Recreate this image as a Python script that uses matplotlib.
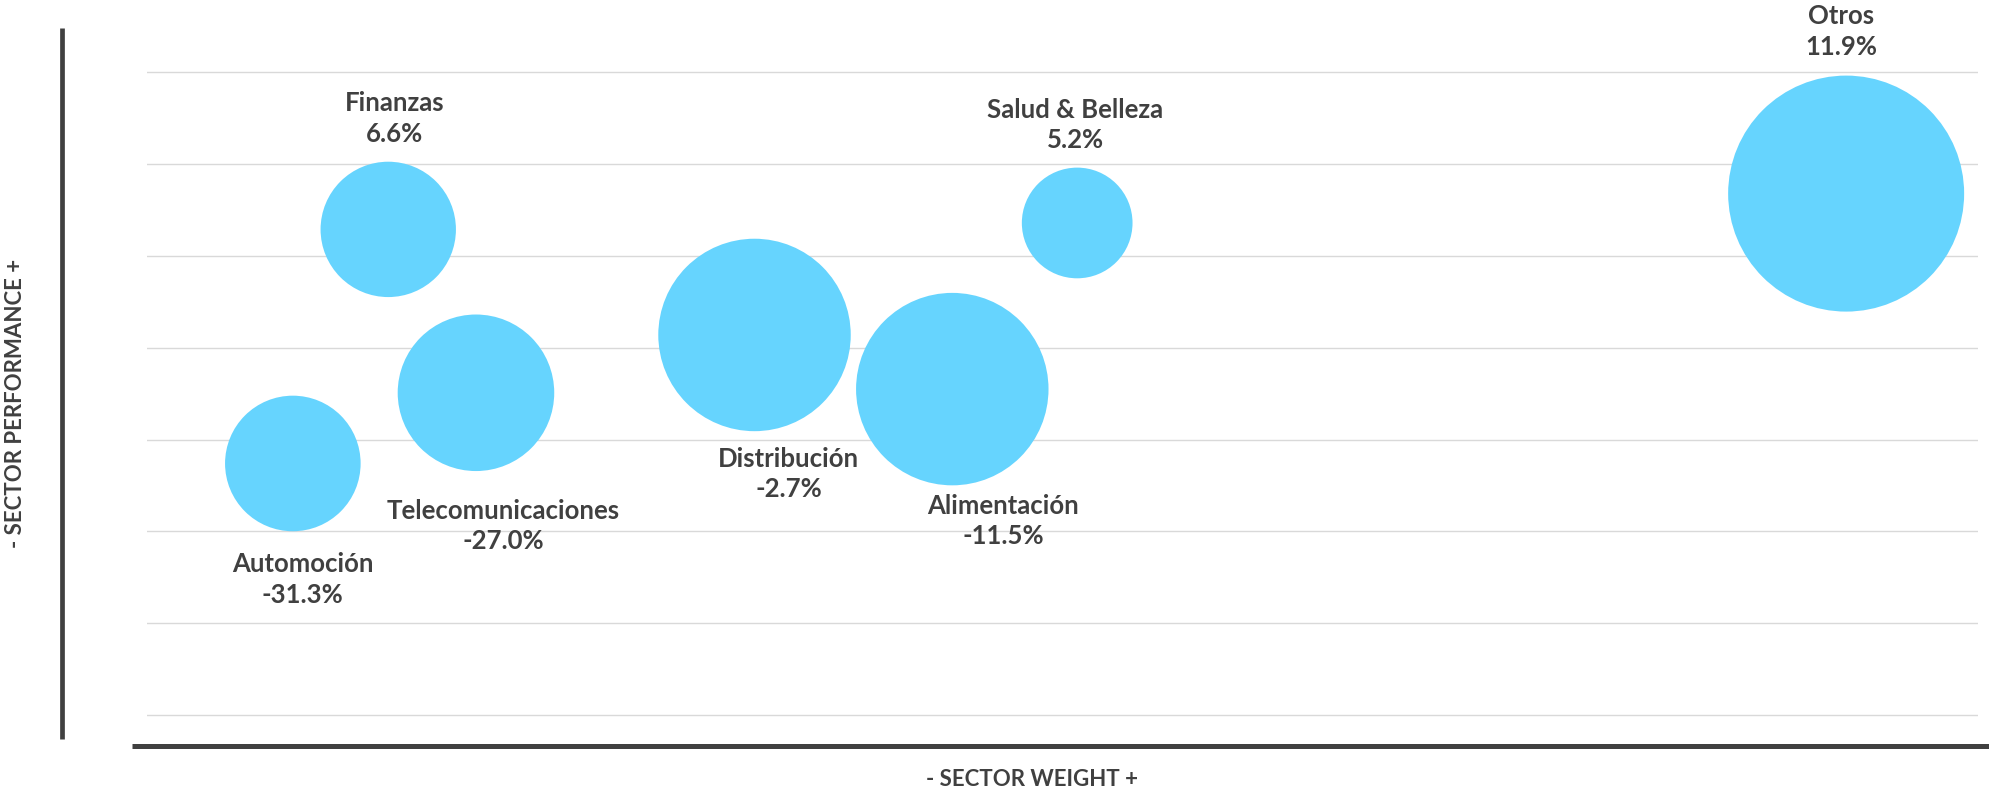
import numpy as np
import matplotlib.pyplot as plt
from matplotlib.lines import Line2D

plt.rcParams['font.family'] = ['Lato', 'DejaVu Sans']

# sector data (positions, arbitrary units)
sectors = ["Automoción", "Finanzas", "Telecomunicaciones", "Distribución",
           "Alimentación", "Salud & Belleza", "Otros"]
weight = [7.98, 13.19, 17.98, 33.19, 43.99, 50.81, 92.80]
performance = [2.74, 5.29, 3.51, 4.14, 3.55, 5.36, 5.68]
perf_labels = ["-31.3%", "6.6%", "-27.0%", "-2.7%", "-11.5%", "5.2%", "11.9%"]
bubble_size = [33.0, 32.9, 44.0, 66.5, 66.5, 22.0, 100.0]

# label offsets from bubble centre, in pixels (dx, dy; dy positive = up)
label_offsets = [(10, -116), (6, 111), (27, -133), (34, -139),
                 (51, -132), (-2, 98), (-5, 162)]

W, H, DPI = 1989, 792, 100
fig = plt.figure(figsize=(W / DPI, H / DPI), dpi=DPI)
ax = fig.add_axes([146.7 / W, 46 / H, (1978 - 146.7) / W, (H - 46) / H])

text_col = "#404040"
bubble_col = "#66D4FE"

# bubble radius in pixels -> scatter area in points^2
r_px = 118 * np.sqrt(np.array(bubble_size) / 100.0)
s = (2 * r_px * 72 / DPI) ** 2
ax.scatter(weight, performance, s=s, color=bubble_col, linewidths=0,
           zorder=3, clip_on=False)

for name, lab, x, y, (dx, dy) in zip(sectors, perf_labels, weight, performance, label_offsets):
    ax.annotate(name + "\n" + lab, xy=(x, y), xytext=(dx * 0.72, dy * 0.72),
                textcoords="offset points", ha="center", va="center",
                fontsize=18.5, fontweight="bold", color=text_col,
                linespacing=1.32, zorder=4)

ax.set_xlim(0, 100)
ax.set_ylim(-0.338, 7.789)
ax.set_yticks(np.arange(0, 8))
ax.set_xticks([])
ax.tick_params(left=False, labelleft=False)
ax.grid(axis="y", color="#d9d9d9", linewidth=1.0)
ax.set_axisbelow(True)
for sp in ax.spines.values():
    sp.set_visible(False)

# axis lines
fig.add_artist(Line2D([61.5 / W, 61.5 / W], [1 - 28 / H, 1 - 739 / H],
                      color=text_col, linewidth=3.4, solid_capstyle="butt"))
fig.add_artist(Line2D([131.7 / W, 1.0], [1 - 745.8 / H, 1 - 745.8 / H],
                      color=text_col, linewidth=3.6, solid_capstyle="butt"))

fig.text(1032 / W, 1 - 780 / H, "- SECTOR WEIGHT +", ha="center", va="center",
         fontsize=16, fontweight="bold", color=text_col)
fig.text(15.5 / W, 1 - 403 / H, "- SECTOR PERFORMANCE +", ha="center", va="center",
         rotation=90, fontsize=16, fontweight="bold", color=text_col)

fig.savefig("out.png", dpi=DPI)
